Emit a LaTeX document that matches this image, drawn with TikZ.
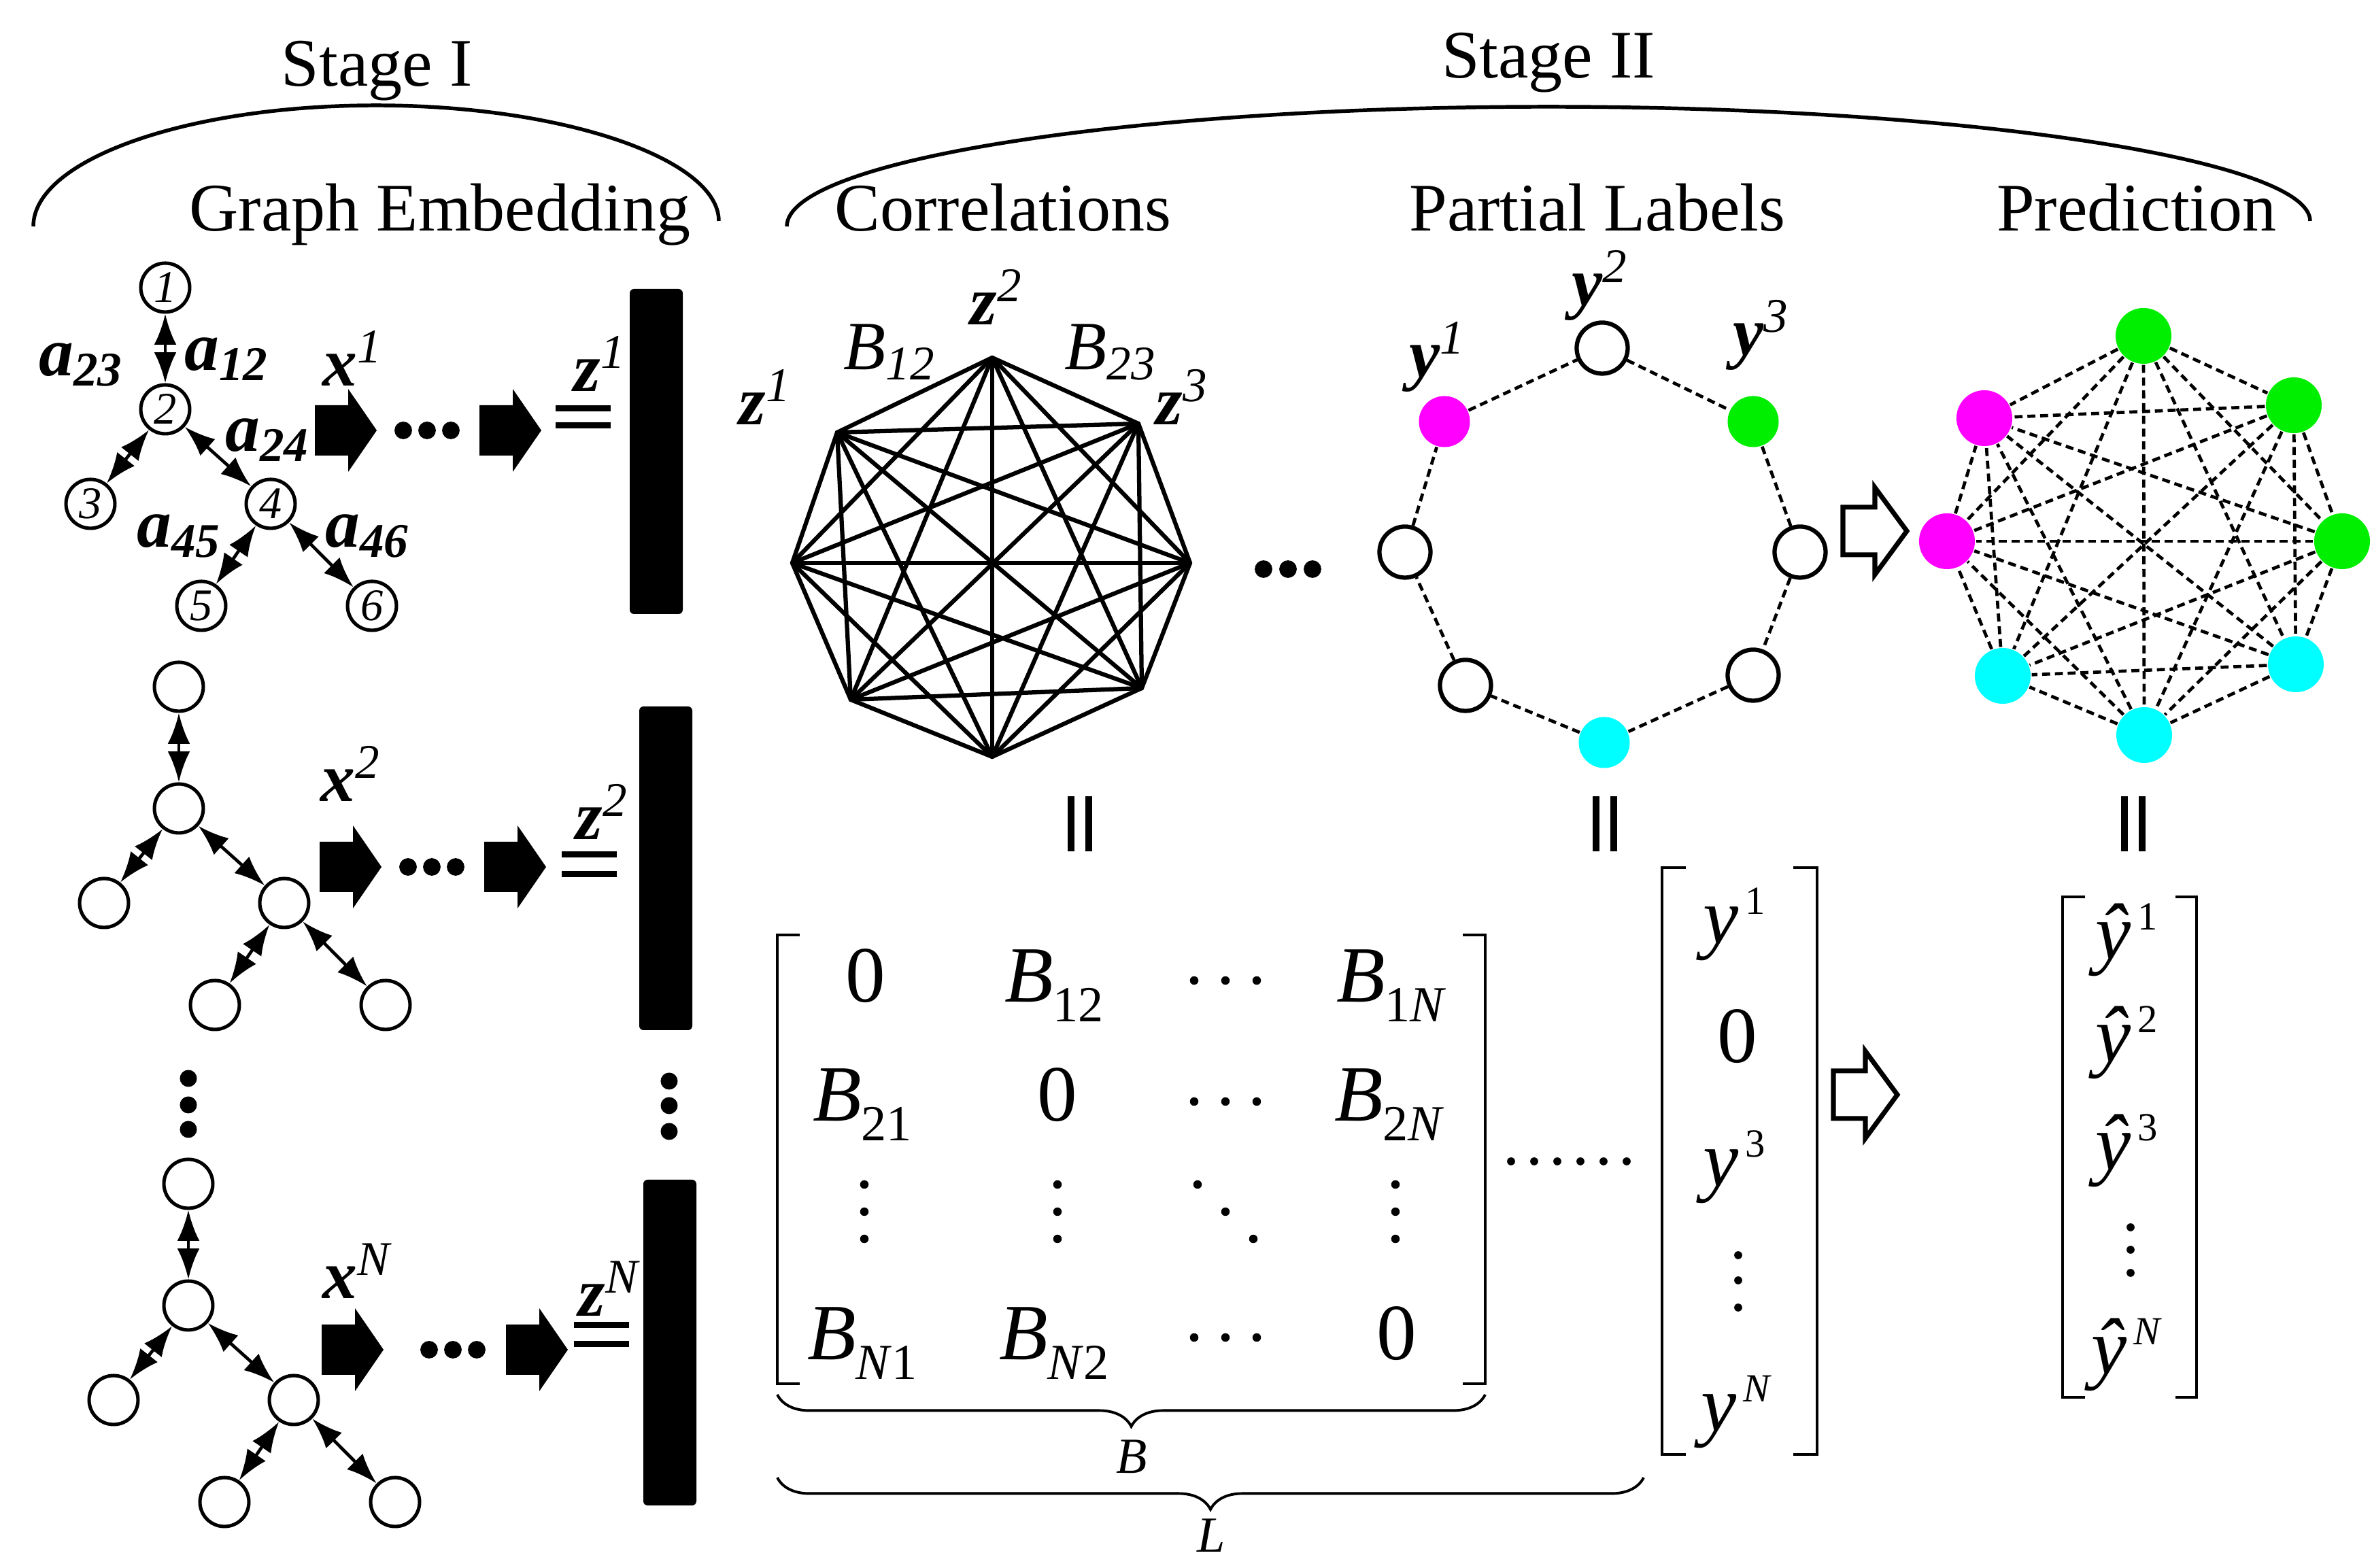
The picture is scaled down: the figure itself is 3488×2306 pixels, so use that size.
\documentclass[tikz,border=0pt]{standalone}
\usepackage{fontspec}
\setmainfont{Liberation Serif}
\usetikzlibrary{arrows.meta}
\usetikzlibrary{decorations.pathreplacing}
\definecolor{knotmagenta}{RGB}{255,0,255}
\definecolor{knotgreen}{RGB}{0,238,0}
\definecolor{knotcyan}{RGB}{0,255,255}
\newcommand{\bfit}[1]{\textbf{\textit{#1}}}
\newcommand{\hoch}[1]{\raisebox{5.5pt}{\fontsize{7.5}{9}\selectfont\,#1}}
\newcommand{\tief}[1]{\raisebox{-3.6pt}{\fontsize{9.5}{10}\selectfont #1}}

\begin{document}
\begin{tikzpicture}[x=0.04495mm, y=-0.04495mm, % Einheit = ein Pixel der Vorlage
    titel/.style={font=\fontsize{12.8}{15}\selectfont, inner sep=0pt, anchor=base},
    marke/.style={font=\fontsize{13}{15}\selectfont, inner sep=0pt, anchor=base west},
    eintrag/.style={font=\fontsize{15}{17}\selectfont, inner sep=0pt, anchor=base},
    knoten/.style={circle, draw, line width=0.65pt, minimum size=9.2pt, inner sep=0pt, font=\fontsize{8.5}{9}\selectfont\itshape},
    doppel/.style={{Latex[length=5.8pt,width=4.2pt]}-{Latex[length=5.8pt,width=4.2pt]}, line width=0.6pt},
    teil/.style={circle, minimum size=9.6pt, inner sep=0pt},
    voll/.style={circle, minimum size=10.5pt, inner sep=0pt},
    leer/.style={draw, line width=0.8pt, fill=white},
    gruen/.style={fill=knotgreen},
    rosa/.style={fill=knotmagenta},
    tuerkis/.style={fill=knotcyan},
    strich/.style={line width=0.6pt, dash pattern=on 1.5pt off 0.9pt},
    gleich/.style={line width=1.15pt},
    klammer/.style={line width=0.6pt},
    blockpfeil/.pic={\fill (0,-37) -- (49,-37) -- (49,-61) -- (91,0) -- (49,61) -- (49,37) -- (0,37) -- cycle;},
    hohlpfeil/.pic={\draw[line width=0.9pt, fill=white, line join=miter] (0,-35) -- (47,-35) -- (47,-64) -- (94,0) -- (47,64) -- (47,35) -- (0,35) -- cycle;}
  ]
    \useasboundingbox (0,0) rectangle (3488,2306);

    % Stufen und Boegen
    \node[titel] (stage1) at (554,127) {Stage I};
    \node[titel] (stage2) at (2277,115) {Stage II};
    \draw[line width=0.7pt] (49,333) .. controls (49,235) and (275,155) .. (553,155)
        .. controls (831,155) and (1057,235) .. (1057,325);
    \draw[line width=0.7pt] (1157,333) .. controls (1157,236) and (1658,157) .. (2277,157)
        .. controls (2896,157) and (3397,236) .. (3397,325);
    \node[titel] (embed) at (647,340) {Graph Embedding};
    \node[titel] (korr) at (1475,340) {Correlations};
    \node[titel] (teillab) at (2349,340) {Partial Labels};
    \node[titel] (vorh) at (3142,340) {Prediction};

    % Graphen (Stufe I)
    \foreach \t/\ox/\oy/\zeige in {a/243/423/1, b/263/1010/0, c/277/1741/0} {
        \foreach \k/\dx/\dy in {1/0/0, 2/0/179, 3/-110/318, 4/155/318, 5/53/468, 6/304/468}
            \node[knoten] (\t\k) at (\ox+\dx,\oy+\dy) {\ifnum\zeige=1 \k\fi};
        \foreach \p/\q in {1/2, 2/3, 2/4, 4/5, 4/6}
            \draw[doppel] (\t\p) -- (\t\q);
    }
    \node[marke] (a12) at (270,545) {\bfit{a}\textsubscript{\bfit{12}}};
    \node[marke] (a23) at (56,553) {\bfit{a}\textsubscript{\bfit{23}}};
    \node[marke] (a24) at (330,664) {\bfit{a}\textsubscript{\bfit{24}}};
    \node[marke] (a45) at (200,805) {\bfit{a}\textsubscript{\bfit{45}}};
    \node[marke] (a46) at (477,805) {\bfit{a}\textsubscript{\bfit{46}}};

    % Pfeile, Punkte, Gleichheitszeichen, Balken
    \foreach \r/\ya/\xa/\xb/\xd/\xg/\yg/\dg/\xz/\yz/\xx/\yx/\btop/\bbot/\bl/\sup in {
        1/633/463/705/593/817/601/25/842/576/473/568/425/903/926/1,
        2/1275/470/712/600/826/1257/29/845/1235/470/1179/1039/1515/940/2,
        3/1985/473/744/631/844/1949/28/849/1936/473/1910/1735/2214/946/N} {
        \pic at (\xa,\ya) {blockpfeil};
        \pic at (\xb,\ya) {blockpfeil};
        \foreach \i in {0,1,2}
            \fill (\xd+35*\i,\ya) circle[radius=1.65pt];
        \draw[gleich] (\xg,\yg) -- (\xg+81,\yg) (\xg,\yg+\dg) -- (\xg+81,\yg+\dg);
        \node[marke] (x\r) at (\xx,\yx) {\bfit{x}\textsuperscript{\textit{\sup}}};
        \node[marke] (z\r) at (\xz,\yz) {\bfit{z}\textsuperscript{\textit{\sup}}};
        \fill[rounded corners=0.8pt] (\bl,\btop) rectangle (\bl+78,\bbot);
    }
    \foreach \y in {1586,1625,1661} \fill (277,\y) circle[radius=1.6pt];
    \foreach \y in {1590,1626,1664} \fill (984,\y) circle[radius=1.6pt];

    % Korrelationen (vollstaendiger Graph)
    \foreach \i/\x/\y in {1/1459/526, 2/1674/623, 3/1750/828, 4/1679/1012,
                          5/1459/1113, 6/1251/1029, 7/1165/828, 8/1231/636}
        \coordinate (k\i) at (\x,\y);
    \foreach \i in {1,...,7} {
        \pgfmathtruncatemacro\n{\i+1}
        \foreach \j in {\n,...,8}
            \draw[line width=0.8pt, line cap=round] (k\i) -- (k\j);
    }
    \node[marke] (kz1) at (1085,625) {\bfit{z}\textsuperscript{\textit{1}}};
    \node[marke] (kb12) at (1239,544) {\textit{B}\textsubscript{\textit{12}}};
    \node[marke] (kz2) at (1425,478) {\bfit{z}\textsuperscript{\textit{2}}};
    \node[marke] (kb23) at (1564,544) {\textit{B}\textsubscript{\textit{23}}};
    \node[marke] (kz3) at (1698,625) {\bfit{z}\textsuperscript{\textit{3}}};
    \foreach \x in {1858,1894,1930} \fill (\x,837) circle[radius=1.65pt];

    % Teilweise bekannte Labels
    \foreach \i/\x/\y/\s in {1/2356/512/leer, 2/2578/620/gruen, 3/2647/812/leer, 4/2578/993/leer,
                             5/2359/1092/tuerkis, 6/2155/1008/leer, 7/2066/812/leer, 8/2124/620/rosa}
        \node[teil, \s] (p\i) at (\x,\y) {};
    \foreach \i in {1,...,8} {
        \pgfmathtruncatemacro\n{mod(\i,8)+1}
        \draw[strich] (p\i) -- (p\n);
    }
    \node[marke] (py1) at (2071,555) {\bfit{y}\textsuperscript{\textit{1}}};
    \node[marke] (py2) at (2310,450) {\bfit{y}\textsuperscript{\textit{2}}};
    \node[marke] (py3) at (2547,523) {\bfit{y}\textsuperscript{\textit{3}}};

    % Vorhersage (gestrichelter vollstaendiger Graph)
    \pic at (2710,781) {hohlpfeil};
    \foreach \i/\x/\y/\s in {1/3152/494/gruen, 2/3373/596/gruen, 3/3444/796/gruen, 4/3376/977/tuerkis,
                             5/3153/1081/tuerkis, 6/2945/994/tuerkis, 7/2863/796/rosa, 8/2918/615/rosa}
        \node[voll, \s] (q\i) at (\x,\y) {};
    \foreach \i in {1,...,7} {
        \pgfmathtruncatemacro\n{\i+1}
        \foreach \j in {\n,...,8}
            \draw[strich] (q\i) -- (q\j);
    }

    % senkrechte Gleichheitszeichen
    \foreach \x in {1588,2360,3137}
        \draw[gleich, line width=1.4pt] (\x-13,1171) -- (\x-13,1252) (\x+13,1171) -- (\x+13,1252);

    % Matrix B
    \draw[klammer] (1176,1375) -- (1143,1375) -- (1143,2035) -- (1176,2035);
    \draw[klammer] (2151,1375) -- (2184,1375) -- (2184,2035) -- (2151,2035);
    \node[eintrag] (m11) at (1273,1474) {0};
    \node[eintrag] (m12) at (1550,1474) {\textit{B}\tief{12}};
    \node[eintrag] (m14) at (2046,1474) {\textit{B}\tief{1\textit{N}}};
    \node[eintrag] (m21) at (1268,1649) {\textit{B}\tief{21}};
    \node[eintrag] (m22) at (1555,1649) {0};
    \node[eintrag] (m24) at (2043,1649) {\textit{B}\tief{2\textit{N}}};
    \node[eintrag] (m41) at (1268,2000) {\textit{B}\tief{\textit{N}1}};
    \node[eintrag] (m42) at (1550,2000) {\textit{B}\tief{\textit{N}2}};
    \node[eintrag] (m44) at (2054,2000) {0};
    \foreach \y in {1442,1620,1967}
        \foreach \x in {1756,1802,1848} \fill (\x,\y) circle[radius=0.8pt];
    \foreach \x in {1271,1555,2052}
        \foreach \y in {1742,1782,1822} \fill (\x,\y) circle[radius=0.8pt];
    \foreach \x/\y in {1761/1742, 1802/1782, 1843/1822} \fill (\x,\y) circle[radius=0.8pt];
    \draw[decorate, decoration={brace, mirror, amplitude=6pt}, line width=0.5pt] (1143,2051) -- (2184,2051);
    \node[font=\fontsize{9.5}{10}\selectfont\itshape, inner sep=0pt] (lb) at (1664,2142) {B};
    \draw[decorate, decoration={brace, mirror, amplitude=6pt}, line width=0.5pt] (1143,2173) -- (2417,2173);
    \node[font=\fontsize{9.5}{10}\selectfont\itshape, inner sep=0pt] (ll) at (1781,2258) {L};
    \foreach \x in {2222,2256,2290,2324,2358,2392} \fill (\x,1708) circle[radius=0.75pt];

    % Vektor y
    \draw[klammer] (2479,1276) -- (2444,1276) -- (2444,2139) -- (2479,2139);
    \draw[klammer] (2637,1276) -- (2672,1276) -- (2672,2139) -- (2637,2139);
    \node[eintrag] (v1) at (2550,1388) {\textit{y}\hoch{1}};
    \node[eintrag] (v2) at (2555,1563) {0};
    \node[eintrag] (v3) at (2550,1745) {\textit{y}\hoch{3}};
    \node[eintrag] (v4) at (2553,2105) {\textit{y}\hoch{\textit{N}}};
    \foreach \y in {1846,1883,1923} \fill (2556,\y) circle[radius=0.75pt];
    \pic at (2696,1610) {hohlpfeil};

    % Vektor y-Dach
    \draw[klammer] (3066,1319) -- (3033,1319) -- (3033,2055) -- (3066,2055);
    \draw[klammer] (3199,1319) -- (3230,1319) -- (3230,2055) -- (3199,2055);
    \foreach \i/\y/\s in {1/1411/1, 2/1562/2, 3/1721/3}
        \node[eintrag] (h\i) at (3127,\y) {\textit{\^{y}}\hoch{\s}};
    \node[eintrag] (h4) at (3127,2021) {\textit{\^{y}}\hoch{\textit{N}}};
    \foreach \y in {1805,1838,1872} \fill (3133,\y) circle[radius=0.75pt];

\end{tikzpicture}
\end{document}
